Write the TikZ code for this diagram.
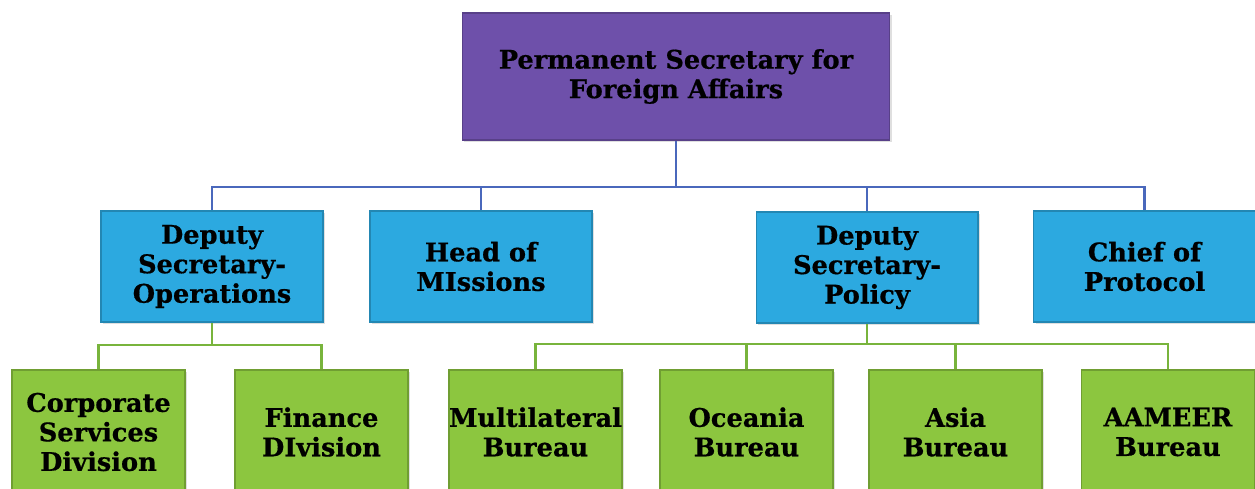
\documentclass[tikz,border=0pt]{standalone}
\usepackage{fontspec}
\setmainfont{DejaVu Serif}[BoldFeatures={FakeBold=0.6}]
\usepackage{tikz}
\usetikzlibrary{shadows}
\definecolor{headfill}{HTML}{6E50AA}
\definecolor{deptfill}{HTML}{2CA9E0}
\definecolor{unitfill}{HTML}{8CC63F}
\definecolor{blueline}{HTML}{4A68BC}
\definecolor{greenline}{HTML}{78B43C}
\newcommand{\boxfont}{\fontsize{14.6}{16.8}\selectfont\bfseries}

\begin{document}
\begin{tikzpicture}[x=0.02cm,y=-0.02cm,
  orgbox/.style={draw, line width=.6pt, align=center, font=\boxfont, inner sep=0pt,
    drop shadow={opacity=.25, shadow xshift=1.2pt, shadow yshift=-1.2pt}},
  headbox/.style={orgbox, fill=headfill, draw=headfill!80!black, minimum width=8.56cm, minimum height=2.54cm},
  deptbox/.style={orgbox, fill=deptfill, draw=deptfill!80!black, minimum width=4.44cm, minimum height=2.22cm},
  unitbox/.style={orgbox, fill=unitfill, draw=unitfill!80!black, minimum width=3.46cm, minimum height=2.48cm}]

\useasboundingbox (0,0) rectangle (1255,489);

\node (0) at (676,76.5) [headbox] {Permanent Secretary for\\Foreign Affairs};

\node (1) at (212,266.5) [deptbox] {Deputy\\Secretary-\\Operations};
\node (2) at (481,266.5) [deptbox] {Head of\\MIssions};
\node (3) at (867,267.5) [deptbox] {Deputy\\Secretary-\\Policy};
\node (4) at (1144.5,266.5) [deptbox] {Chief of\\Protocol};

\node (5) at (98.5,432) [unitbox] {Corporate\\Services\\Division};
\node (6) at (321.5,432) [unitbox] {Finance\\DIvision};
\node (7) at (535.5,432) [unitbox] {Multilateral\\Bureau};
\node (8) at (746.5,432) [unitbox] {Oceania\\Bureau};
\node (9) at (955.5,432) [unitbox] {Asia\\Bureau};
\node (10) at (1168,432) [unitbox] {AAMEER\\Bureau};

\coordinate (b0) at (676,187);
\coordinate (b1) at (212,345);
\coordinate (b3) at (867,344);

\draw[blueline, line width=1.2pt]
(0) -- (b0)
(b0) -| (1)
(b0) -| (2)
(b0) -| (3)
(b0) -| (4);

\draw[greenline, line width=1.2pt]
(1) -- (b1)
(b1) -| (5)
(b1) -| (6)
(3) -- (b3)
(b3) -| (7)
(b3) -| (8)
(b3) -| (9)
(b3) -| (10);

\end{tikzpicture}
\end{document}
